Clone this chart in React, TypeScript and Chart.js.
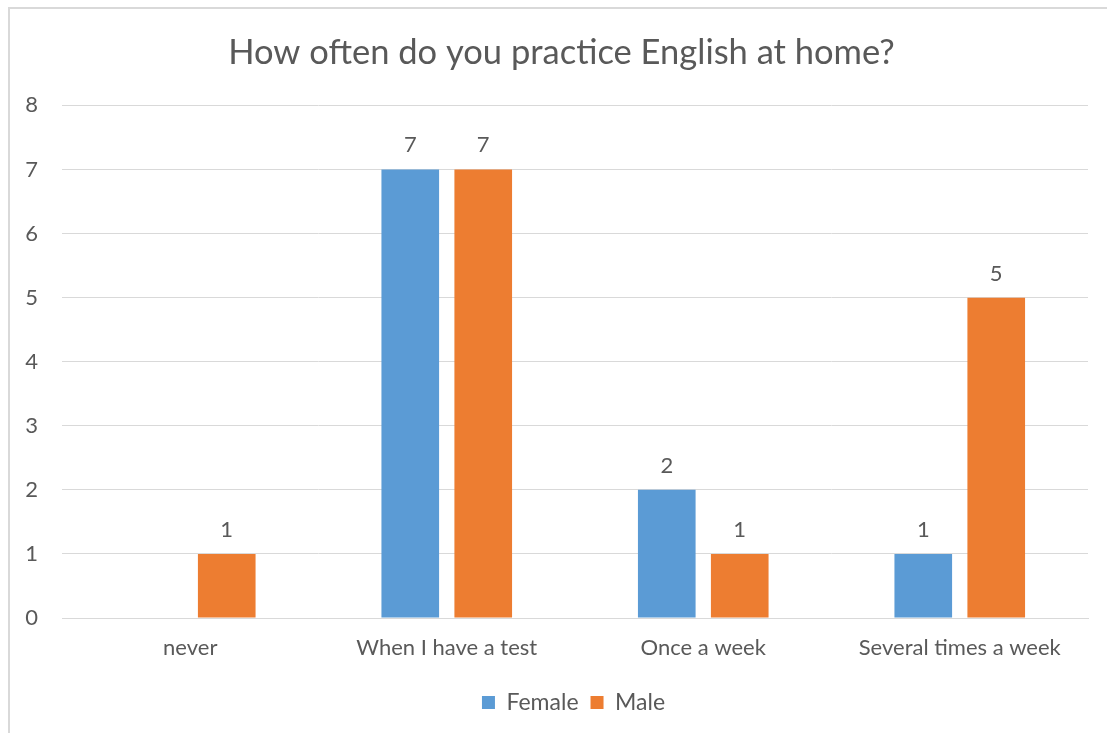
import React, { useEffect, useRef } from "react";
import { Chart, registerables } from "chart.js";

Chart.register(...registerables);

const categories = ["never", "When I have a test", "Once a week", "Several times a week"];
const femaleValues: (number | null)[] = [null, 7, 2, 1];
const maleValues: (number | null)[] = [1, 7, 1, 5];
const yTicks = [0, 1, 2, 3, 4, 5, 6, 7, 8];
const titleText = "How often do you practice English at home?";

const FONT = "Lato, 'Open Sans', sans-serif";
const TEXT = "#595959";

const valueLabels = {
  id: "valueLabels",
  afterLayout(chart: any) {
    if (chart.titleBlock) {
      chart.titleBlock.left += 12.5;
      chart.titleBlock.right += 12.5;
    }
    if (chart.legend) {
      chart.legend.left += 24.5;
      chart.legend.right += 24.5;
    }
  },
  afterDatasetsDraw(chart: any) {
    const ctx = chart.ctx;
    ctx.save();
    ctx.font = `22px ${FONT}`;
    ctx.fillStyle = TEXT;
    ctx.textAlign = "center";
    ctx.textBaseline = "alphabetic";
    chart.data.datasets.forEach((ds: any, i: number) => {
      const meta = chart.getDatasetMeta(i);
      meta.data.forEach((bar: any, j: number) => {
        const v = ds.data[j];
        if (v === null || v === undefined) return;
        ctx.fillText(String(v), bar.x, bar.y - 17);
      });
    });
    ctx.restore();
  },
};

export default function App() {
  const ref = useRef<HTMLCanvasElement>(null);
  useEffect(() => {
    if (!ref.current) return;
    const chart = new Chart(ref.current, {
      type: "bar",
      data: {
        labels: categories,
        datasets: [
          {
            label: "Female",
            data: femaleValues,
            backgroundColor: "#5B9BD5",
            barPercentage: 0.79,
            categoryPercentage: 0.569,
          },
          {
            label: "Male",
            data: maleValues,
            backgroundColor: "#ED7D31",
            barPercentage: 0.79,
            categoryPercentage: 0.569,
          },
        ],
      },
      options: {
        animation: false,
        responsive: false,
        maintainAspectRatio: false,
        layout: { padding: { left: 0, right: 19, top: 0, bottom: 9 } },
        plugins: {
          title: {
            display: true,
            text: titleText,
            color: TEXT,
            font: { family: FONT, size: 34.5, weight: "normal" },
            padding: { top: 23, bottom: 32 },
          },
          legend: {
            position: "bottom",
            labels: {
              color: TEXT,
              font: { family: FONT, size: 23 },
              boxWidth: 13,
              boxHeight: 13,
              padding: 12,
            },
          },
          tooltip: { enabled: false },
        },
        scales: {
          x: {
            grid: { display: false, drawTicks: false },
            border: { display: true, color: "#D9D9D9" },
            ticks: { color: TEXT, font: { family: FONT, size: 22 }, padding: 17 },
            afterFit(scale: any) {
              scale.height = 61;
            },
          },
          y: {
            min: 0,
            max: 8,
            afterBuildTicks(scale: any) {
              scale.ticks = yTicks.map((v) => ({ value: v }));
            },
            grid: { color: "#D9D9D9", lineWidth: 1, drawTicks: false },
            border: { display: false },
            ticks: { color: TEXT, font: { family: FONT, size: 22 }, padding: 24 },
            afterFit(scale: any) {
              scale.width = 52;
            },
          },
        },
      },
      plugins: [valueLabels],
    });
    return () => chart.destroy();
  }, []);

  return (
    <div
      style={{
        position: "fixed",
        left: 8,
        top: 7,
        width: 1099,
        height: 726,
        borderTop: "2px solid #D9D9D9",
        borderLeft: "2px solid #D9D9D9",
        boxSizing: "border-box",
        background: "#fff",
      }}
    >
      <canvas ref={ref} width={1097} height={724} style={{ display: "block" }} />
    </div>
  );
}
